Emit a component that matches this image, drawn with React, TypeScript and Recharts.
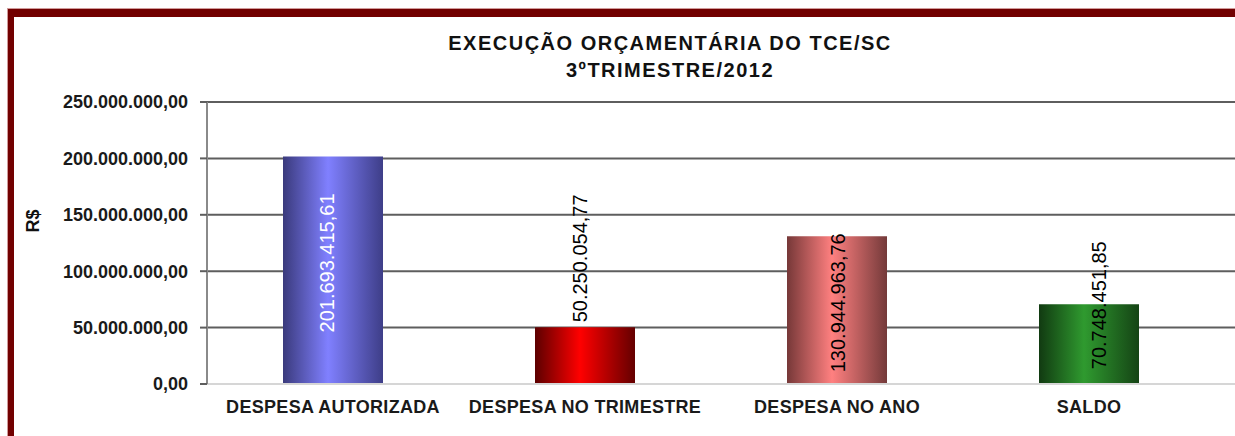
import { BarChart, Bar, XAxis, YAxis, CartesianGrid, Cell, LabelList, Label } from 'recharts'

const categories = ['DESPESA AUTORIZADA', 'DESPESA NO TRIMESTRE', 'DESPESA NO ANO', 'SALDO']
const values = [201693415.61, 50250054.77, 130944963.76, 70748451.85]
const yTicks = [0, 50000000, 100000000, 150000000, 200000000, 250000000]

const titleLine1 = 'EXECUÇÃO ORÇAMENTÁRIA DO TCE/SC'
const titleLine2 = '3ºTRIMESTRE/2012'
const yAxisTitle = 'R$'

// gradient per bar (dark edges, light middle)
const barGradients = [
  { id: 'gBlue', stops: ['#3a3a7c', '#8080ff', '#3e3e88'] },
  { id: 'gRed', stops: ['#5c0000', '#ff0000', '#640000'] },
  { id: 'gPink', stops: ['#763838', '#ff8080', '#743a3a'] },
  { id: 'gGreen', stops: ['#113a11', '#2f9a2f', '#154415'] },
]

// where the rotated value label starts, relative to the bar top
const labelLayout = [
  { dx: -6, fromTop: 176, fill: '#ffffff' },
  { dx: -5, fromTop: -5, fill: '#000000' },
  { dx: 1, fromTop: 136, fill: '#000000' },
  { dx: 10, fromTop: 65, fill: '#000000' },
]

const FONT = '"Liberation Sans", Arial, sans-serif'

const fmtBR = (v: number) => {
  const [int, dec] = v.toFixed(2).split('.')
  return int.replace(/\B(?=(\d{3})+(?!\d))/g, '.') + ',' + dec
}

const data = categories.map((name, i) => ({ name, valor: values[i] }))

const ValueLabel = (props: any) => {
  const { x, y, width, value } = props
  let idx = props.index
  if (idx === undefined) idx = values.indexOf(value)
  const cfg = labelLayout[idx] || labelLayout[0]
  const cx = Number(x) + Number(width) / 2 + cfg.dx
  const sy = Number(y) + cfg.fromTop
  return (
    <text
      x={cx}
      y={sy}
      dy="0.36em"
      transform={`rotate(-90 ${cx} ${sy})`}
      textAnchor="start"
      fontFamily={FONT}
      fontSize={20}
      fill={cfg.fill}
    >
      {fmtBR(Number(value))}
    </text>
  )
}

export default function App() {
  return (
    <div style={{ position: 'fixed', left: 0, top: 0, width: 1235, height: 436, background: '#fff', overflow: 'hidden' }}>
      {/* moldura vermelha */}
      <div
        style={{
          position: 'absolute', left: 8, top: 9, right: -20, bottom: -20,
          borderTop: '8px solid #720000', borderLeft: '6px solid #720000',
          boxShadow: '-1px -1px 0 #d09a9a',
        }}
      />
      <div style={{ position: 'absolute', left: 420, width: 500, top: 32, textAlign: 'center', fontFamily: FONT, fontWeight: 'bold', fontSize: 20, lineHeight: '22px', letterSpacing: 1.5, color: '#111' }}>
        {titleLine1}
      </div>
      <div style={{ position: 'absolute', left: 420, width: 500, top: 59, textAlign: 'center', fontFamily: FONT, fontWeight: 'bold', fontSize: 20, lineHeight: '22px', letterSpacing: 1.5, color: '#111' }}>
        {titleLine2}
      </div>
      <div style={{ position: 'absolute', left: 0, top: 0 }}>
        <BarChart width={1235} height={436} data={data} margin={{ top: 102, right: 0, bottom: 12, left: 0 }}>
          <defs>
            {barGradients.map(g => (
              <linearGradient key={g.id} id={g.id} x1="0" y1="0" x2="1" y2="0">
                <stop offset="0%" stopColor={g.stops[0]} />
                <stop offset="45%" stopColor={g.stops[1]} />
                <stop offset="100%" stopColor={g.stops[2]} />
              </linearGradient>
            ))}
          </defs>
          <CartesianGrid
            vertical={false}
            horizontalValues={yTicks.slice(1)}
            stroke="#5e5e5e"
            strokeWidth={2}
          />
          <XAxis
            dataKey="name"
            height={40}
            padding={{ left: 0, right: 20 }}
            axisLine={{ stroke: '#d6d6d6', strokeWidth: 2 }}
            tickLine={false}
            tickSize={0}
            tickMargin={16}
            tick={{ fontFamily: FONT, fontSize: 18, fontWeight: 'bold', fill: '#1a1a1a', letterSpacing: 0.3 }}
            interval={0}
          />
          <YAxis
            width={207}
            domain={[0, 250000000]}
            ticks={yTicks}
            interval={0}
            tickFormatter={fmtBR}
            axisLine={{ stroke: '#8a8a8a', strokeWidth: 2 }}
            tickLine={{ stroke: '#5e5e5e', strokeWidth: 2 }}
            tickSize={7}
            tickMargin={12}
            tick={{ fontFamily: FONT, fontSize: 18, fontWeight: 'bold', fill: '#1a1a1a' }}
          >
            <Label
              content={() => (
                <text x={33} y={221} dy="0.36em" transform="rotate(-90 33 221)" textAnchor="middle" fontFamily={FONT} fontSize={18} fontWeight="bold" fill="#111">
                  {yAxisTitle}
                </text>
              )}
            />
          </YAxis>
          <Bar dataKey="valor" barSize={100} isAnimationActive={false}>
            {data.map((d, i) => (
              <Cell key={d.name} fill={`url(#${barGradients[i].id})`} />
            ))}
            <LabelList dataKey="valor" content={ValueLabel} />
          </Bar>
        </BarChart>
      </div>
    </div>
  )
}
